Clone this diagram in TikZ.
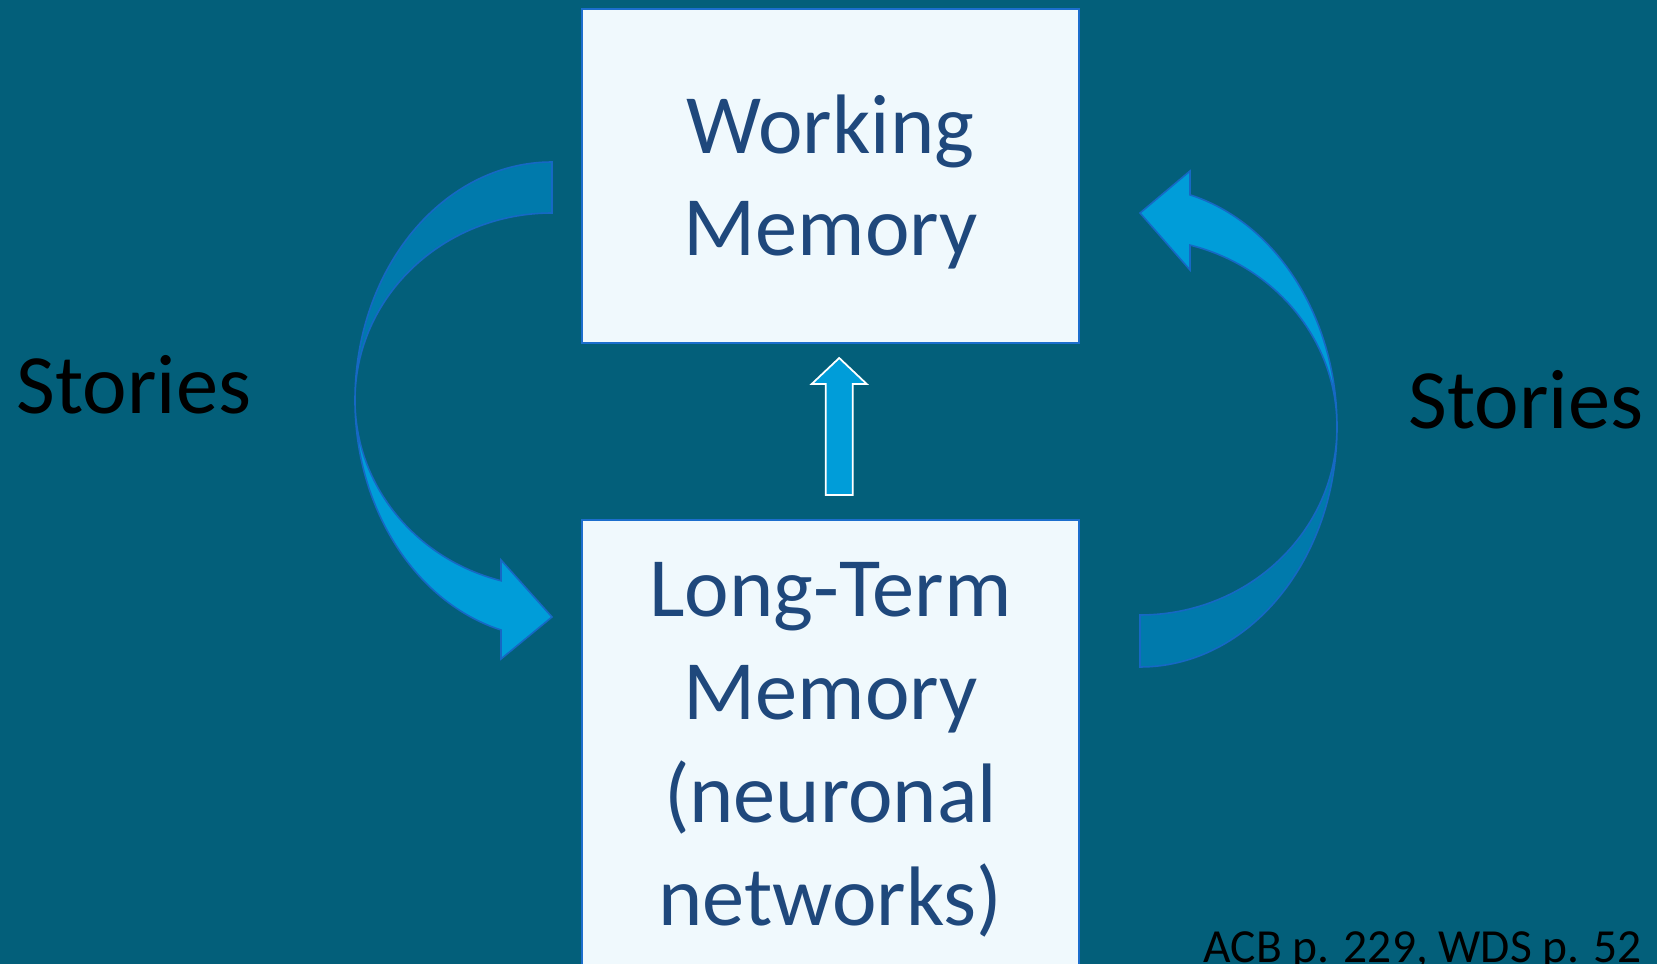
\documentclass[tikz,border=0pt]{standalone}
\usepackage{fontspec}
\setmainfont{Carlito}
\definecolor{slidebg}{RGB}{3,95,122}
\definecolor{boxfill}{RGB}{240,249,253}
\definecolor{boxline}{RGB}{28,110,205}
\definecolor{memtxt}{RGB}{31,72,124}
\definecolor{bandlight}{RGB}{0,157,217}
\definecolor{banddark}{RGB}{0,122,172}
\definecolor{bandline}{RGB}{22,104,196}
\begin{document}
\begin{tikzpicture}[x=0.01cm,y=0.01cm,
    membox/.style={draw=boxline,fill=boxfill,line width=.6pt,inner sep=0},
    memtext/.style={text=memtxt,align=center,inner sep=0,font=\fontsize{24}{29.2}\selectfont},
    storytext/.style={text=black,inner sep=0,font=\fontsize{24}{29.2}\selectfont},
    band/.style={draw=bandline,line width=.45pt}]
  \useasboundingbox (0,0) rectangle (1657,-964);
  \fill[slidebg] (0,0) rectangle (1657,-964);
  \node[membox,minimum width=4.97cm,minimum height=3.34cm] (wm) at (830.5,-176) {};
  \node[membox,minimum width=4.97cm,minimum height=4.8cm] (ltm) at (830.5,-760) {};
  \node[memtext,anchor=base] (wmtext) at (830.5,-256) {Working\\Memory};
  \node[memtext,anchor=base] (ltmtext) at (830.5,-925) {Long-Term\\Memory\\(neuronal\\networks)};
  \node[storytext,anchor=base west] (storiesl) at (16,-414) {Stories};
  \node[storytext,anchor=base west] (storiesr) at (1408,-429) {Stories};
  \node[anchor=base west,inner sep=0,font=\fontsize{13.5}{16}\selectfont] (ref) at (1203,-962) {ACB p. 229, WDS p. 52};
  % left curved arrow
  \filldraw[band,fill=banddark] (552,-162) arc[start angle=90,end angle=180,x radius=197,y radius=238]
    arc[start angle=180,end angle=90,x radius=197,y radius=187] -- cycle;
  \filldraw[band,fill=bandlight] (501,-560) -- (552,-617) -- (501,-659) -- (501,-630)
    arc[start angle=-105,end angle=-180,x radius=197,y radius=238]
    arc[start angle=180,end angle=255,x radius=197,y radius=187] -- cycle;
  % right curved arrow
  \filldraw[band,fill=banddark] (1140,-667) arc[start angle=-90,end angle=0,x radius=197,y radius=240]
    arc[start angle=0,end angle=-90,x radius=197,y radius=188] -- cycle;
  \filldraw[band,fill=bandlight] (1337,-427) arc[start angle=0,end angle=75.3,x radius=197,y radius=240]
    -- (1190,-171) -- (1140,-213) -- (1190,-270) -- (1190,-245.1)
    arc[start angle=75.3,end angle=0,x radius=197,y radius=188] -- cycle;
  % up arrow
  \filldraw[draw=white,fill=bandlight,line width=.5pt] (825.7,-495) -- (825.7,-384) -- (811.7,-384)
    -- (839.2,-358) -- (866.7,-384) -- (852.7,-384) -- (852.7,-495) -- cycle;
\end{tikzpicture}
\end{document}
